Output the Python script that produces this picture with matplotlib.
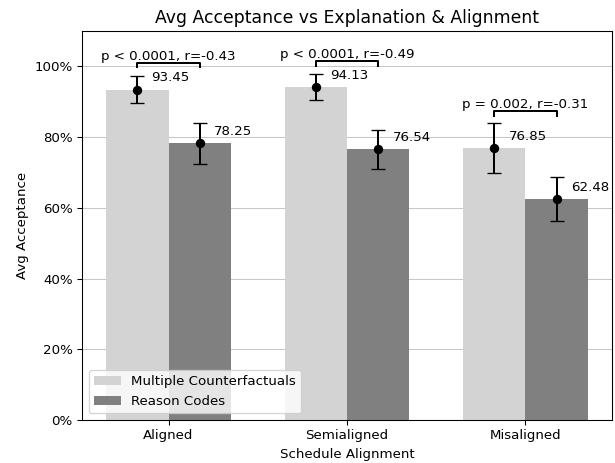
import numpy as np
import matplotlib
matplotlib.use('Agg')
import matplotlib.pyplot as plt
from matplotlib.ticker import FuncFormatter

categories = ['Aligned', 'Semialigned', 'Misaligned']
mc_mean = [93.45, 94.13, 76.85]
rc_mean = [78.25, 76.54, 62.48]
# error bar half-widths
mc_err = [3.8, 3.6, 7.0]
rc_err = [5.8, 5.6, 6.1]
stats_text = ['p < 0.0001, r=-0.43', 'p < 0.0001, r=-0.49', 'p = 0.002, r=-0.31']

x = np.arange(len(categories))
w = 0.35

fig, ax = plt.subplots(figsize=(615/96, 463/96), dpi=96)
fig.subplots_adjust(left=82/615, right=612/615, top=1 - 31/463, bottom=1 - 420/463)
ax.set_axisbelow(True)
ax.grid(axis='y', color='#b0b0b0', alpha=0.7)

ax.bar(x - w/2, mc_mean, w, color='lightgray', label='Multiple Counterfactuals')
ax.bar(x + w/2, rc_mean, w, color='gray', label='Reason Codes')

ax.errorbar(x - w/2, mc_mean, yerr=mc_err, fmt='o', color='black', capsize=5, markersize=6)
ax.errorbar(x + w/2, rc_mean, yerr=rc_err, fmt='o', color='black', capsize=5, markersize=6)

for i in range(len(categories)):
    ax.text(x[i] - w/2 + 0.08, mc_mean[i] + 3.3, f'{mc_mean[i]:.2f}', va='center', ha='left')
    ax.text(x[i] + w/2 + 0.08, rc_mean[i] + 3.3, f'{rc_mean[i]:.2f}', va='center', ha='left')
    top = max(mc_mean[i] + mc_err[i], rc_mean[i] + rc_err[i]) * 1.025
    h = 1.3
    ax.plot([x[i] - w/2, x[i] - w/2, x[i] + w/2, x[i] + w/2],
            [top, top + h, top + h, top], color='black', lw=1.5)
    ax.text(x[i], top + h, stats_text[i], ha='center', va='bottom')

ax.set_ylim(0, 110)
ax.yaxis.set_major_formatter(FuncFormatter(lambda v, p: f'{v:.0f}%'))
ax.set_xticks(x)
ax.set_xticklabels(categories)
ax.set_xlabel('Schedule Alignment')
ax.set_ylabel('Avg Acceptance')
ax.set_title('Avg Acceptance vs Explanation & Alignment', fontsize=12.9)
ax.legend(loc='lower left')

fig.savefig('out.png')
